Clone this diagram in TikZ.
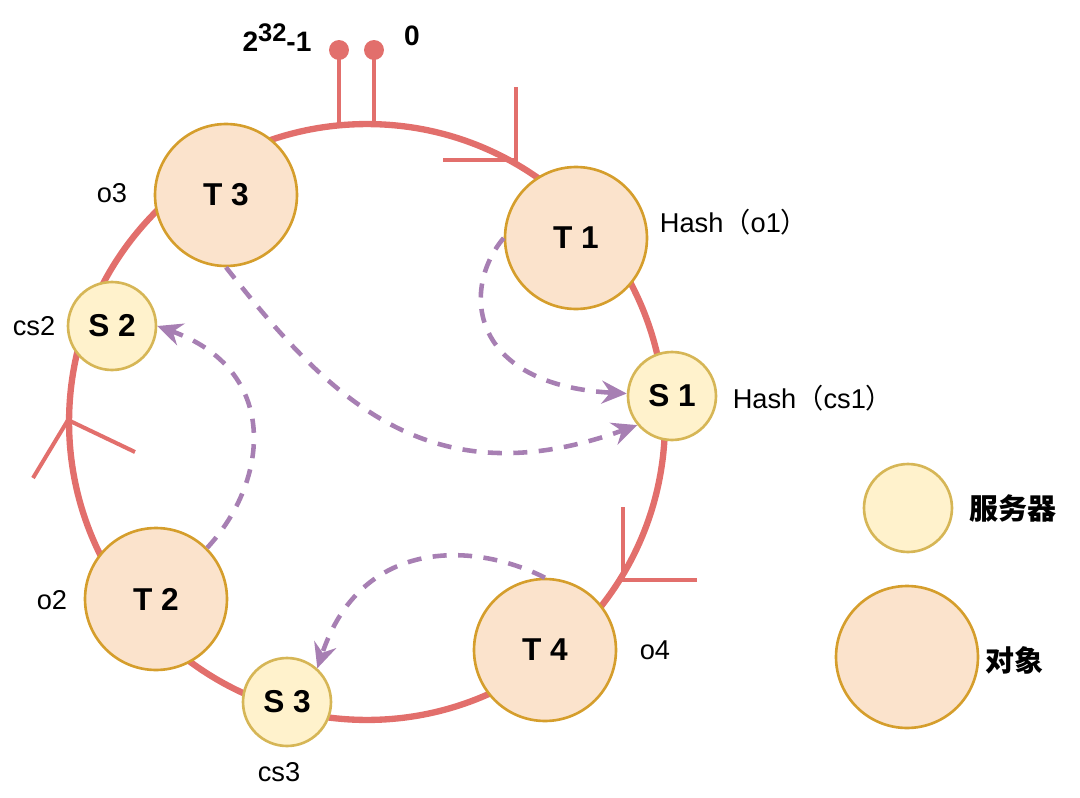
\documentclass[tikz,border=0pt]{standalone}
\usepackage{fontspec}
\setmainfont{Liberation Sans}
\newfontfamily\cjk{Noto Sans CJK SC}
\usepackage{xcolor}
\definecolor{ring}{HTML}{E26F6C}
\definecolor{objfill}{HTML}{FBE3CC}
\definecolor{objline}{HTML}{D59E2C}
\definecolor{srvfill}{HTML}{FFF2CC}
\definecolor{srvline}{HTML}{D6B656}
\definecolor{flowc}{HTML}{A77FB3}
\usepackage{tikz}
\usetikzlibrary{positioning,arrows.meta}

\begin{document}
\begin{tikzpicture}[
    x=0.02cm, y=-0.02cm,
    obj/.style={circle, draw=objline, fill=objfill, line width=1.5pt, minimum size=2.84cm, font=\fontsize{18}{20}\selectfont\bfseries},
    srv/.style={circle, draw=srvline, fill=srvfill, line width=1.5pt, minimum size=1.76cm, font=\fontsize{18}{20}\selectfont\bfseries},
    lbl/.style={font=\fontsize{15.5}{17}\selectfont},
    flow/.style={-{Stealth[length=0.5cm,width=0.46cm,inset=0.17cm]}, flowc, line width=2.6pt, dash pattern=on 8pt off 6.5pt},
    dirmark/.style={ring, line width=2.3pt}
]
  \useasboundingbox (0,0) rectangle (1080,798);

  % Hash ring
  \draw[ring, line width=3.6pt] (367,422) circle [radius=5.96cm];

  % Start and end of the ring
  \coordinate (maxtop) at (339,50);
  \coordinate (maxbase) at (339,126);
  \coordinate (zerotop) at (374,50);
  \coordinate (zerobase) at (374,125);
  \draw[ring, line width=2.8pt] (maxbase) -- (maxtop);
  \draw[ring, line width=2.8pt] (zerobase) -- (zerotop);
  \fill[ring] (maxtop) circle [radius=0.2cm];
  \fill[ring] (zerotop) circle [radius=0.2cm];
  \node[font=\fontsize{16}{18}\selectfont\bfseries] (maxlbl) at (277,38) {2\raisebox{0.2cm}{\fontsize{14.5}{16}\selectfont 32}-1};
  \node[font=\fontsize{16}{18}\selectfont\bfseries] (zerolbl) at (412,36) {0};

  % Direction marks
  \draw[dirmark] (443,160) -- (516,160) -- (516,87);
  \draw[dirmark] (697,580) -- (623,580) -- (623,507);
  \draw[dirmark] (135,452) -- (68,420) -- (33,478);

  % Objects and servers
  \node[obj] (t3) at (226,195) {T 3};
  \node[obj] (t1) at (576,238) {T 1};
  \node[srv] (s1) at (672,396) {S 1};
  \node[srv] (s2) at (112,326) {S 2};
  \node[obj] (t2) at (156,599) {T 2};
  \node[srv] (s3) at (287,702) {S 3};
  \node[obj] (t4) at (545,650) {T 4};

  \node[lbl] (o3) at (112,193) {o3};
  \node[lbl] (ho1) at (734,222) {Hash{\cjk（}o1{\cjk）}};
  \node[lbl] (hcs1) at (813,398) {Hash{\cjk（}cs1{\cjk）}};
  \node[lbl] (cs2) at (34,326) {cs2};
  \node[lbl] (o2) at (52,600) {o2};
  \node[lbl] (o4) at (655,650) {o4};
  \node[lbl] (cs3) at (279,772) {cs3};

  % Mapping to servers
  \draw[flow] (t1.west) .. controls (460,290) and (470,385) .. (s1);
  \draw[flow] (t3.south) .. controls (330,400) and (430,500) .. (s1.220);
  \draw[flow] (t2.45) .. controls (270,480) and (280,370) .. (s2.east);
  \draw[flow] (t4.north) .. controls (470,540) and (360,540) .. (s3.48);

  % Legend
  \node[srv] (keysrv) at (908,508) {};
  \node[font=\fontsize{16.5}{18}\selectfont\cjk\bfseries, right=0.2cm of keysrv] (keysrvlbl) {服务器};
  \node[obj] (keyobj) at (907,657) {};
  \node[font=\fontsize{16.5}{18}\selectfont\cjk\bfseries] (keyobjlbl) at (1014,660) {对象};
\end{tikzpicture}
\end{document}
